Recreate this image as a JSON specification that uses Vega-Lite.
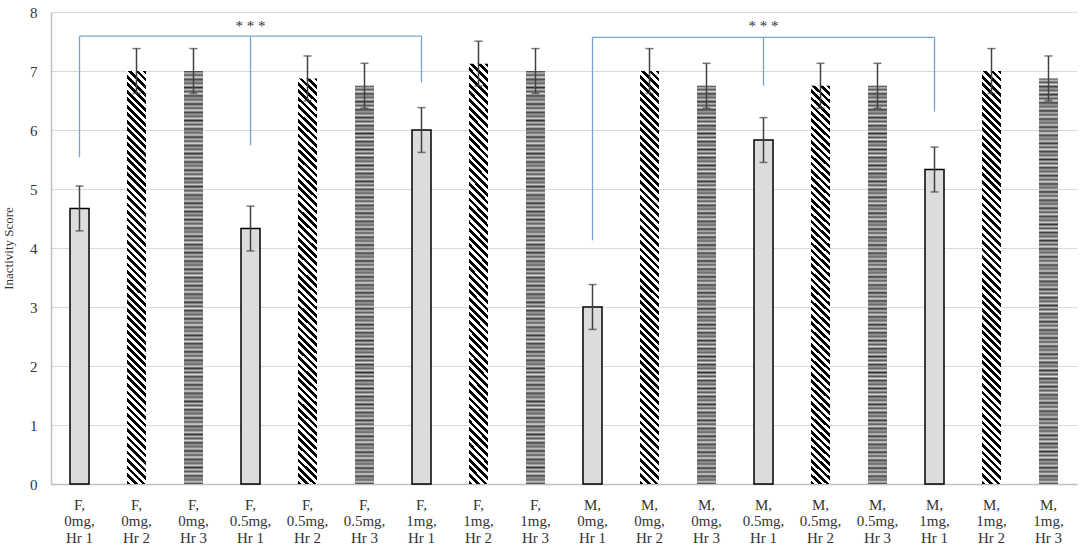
{
  "$schema": "https://vega.github.io/schema/vega-lite/v6.json",
  "width": 1026,
  "height": 472,
  "autosize": "none",
  "padding": {"left": 51, "top": 12, "right": 7, "bottom": 62},
  "background": "white",
  "config": {
    "view": {"stroke": null},
    "font": "Liberation Serif"
  },
  "datasets": {
    "scores": [
      {"group": "F, 0mg, Hr 1", "hour": "Hr 1", "score": 4.67, "sem": 0.38},
      {"group": "F, 0mg, Hr 2", "hour": "Hr 2", "score": 7.0, "sem": 0.38},
      {"group": "F, 0mg, Hr 3", "hour": "Hr 3", "score": 7.0, "sem": 0.38},
      {"group": "F, 0.5mg, Hr 1", "hour": "Hr 1", "score": 4.33, "sem": 0.38},
      {"group": "F, 0.5mg, Hr 2", "hour": "Hr 2", "score": 6.875, "sem": 0.38},
      {"group": "F, 0.5mg, Hr 3", "hour": "Hr 3", "score": 6.75, "sem": 0.38},
      {"group": "F, 1mg, Hr 1", "hour": "Hr 1", "score": 6.0, "sem": 0.38},
      {"group": "F, 1mg, Hr 2", "hour": "Hr 2", "score": 7.125, "sem": 0.38},
      {"group": "F, 1mg, Hr 3", "hour": "Hr 3", "score": 7.0, "sem": 0.38},
      {"group": "M, 0mg, Hr 1", "hour": "Hr 1", "score": 3.0, "sem": 0.38},
      {"group": "M, 0mg, Hr 2", "hour": "Hr 2", "score": 7.0, "sem": 0.38},
      {"group": "M, 0mg, Hr 3", "hour": "Hr 3", "score": 6.75, "sem": 0.38},
      {"group": "M, 0.5mg, Hr 1", "hour": "Hr 1", "score": 5.83, "sem": 0.38},
      {"group": "M, 0.5mg, Hr 2", "hour": "Hr 2", "score": 6.75, "sem": 0.38},
      {"group": "M, 0.5mg, Hr 3", "hour": "Hr 3", "score": 6.75, "sem": 0.38},
      {"group": "M, 1mg, Hr 1", "hour": "Hr 1", "score": 5.33, "sem": 0.38},
      {"group": "M, 1mg, Hr 2", "hour": "Hr 2", "score": 7.0, "sem": 0.38},
      {"group": "M, 1mg, Hr 3", "hour": "Hr 3", "score": 6.875, "sem": 0.38}
    ],
    "brackets": [
      {"from": "F, 0mg, Hr 1", "to": "F, 1mg, Hr 1", "top": 7.59, "bottom": 7.59},
      {"from": "F, 0mg, Hr 1", "to": "F, 0mg, Hr 1", "top": 7.59, "bottom": 5.54},
      {"from": "F, 0.5mg, Hr 1", "to": "F, 0.5mg, Hr 1", "top": 7.59, "bottom": 5.74},
      {"from": "F, 1mg, Hr 1", "to": "F, 1mg, Hr 1", "top": 7.59, "bottom": 6.81},
      {"from": "M, 0mg, Hr 1", "to": "M, 1mg, Hr 1", "top": 7.57, "bottom": 7.57},
      {"from": "M, 0mg, Hr 1", "to": "M, 0mg, Hr 1", "top": 7.57, "bottom": 4.13},
      {"from": "M, 0.5mg, Hr 1", "to": "M, 0.5mg, Hr 1", "top": 7.57, "bottom": 6.75},
      {"from": "M, 1mg, Hr 1", "to": "M, 1mg, Hr 1", "top": 7.57, "bottom": 6.31}
    ],
    "stars": [
      {"at": "F, 0.5mg, Hr 1", "level": 7.77, "label": "* * *"},
      {"at": "M, 0.5mg, Hr 1", "level": 7.77, "label": "* * *"}
    ]
  },
  "layer": [
    {
      "data": {"name": "scores"},
      "transform": [{"filter": {"field": "hour", "equal": "Hr 1"}}],
      "mark": {"type": "bar", "width": 19, "fill": "#dcdcdc", "stroke": "#000000", "strokeWidth": 1.5},
      "encoding": {
        "x": {
          "field": "group", "type": "nominal", "sort": null, "title": null,
          "scale": {
            "domain": ["F, 0mg, Hr 1", "F, 0mg, Hr 2", "F, 0mg, Hr 3", "F, 0.5mg, Hr 1", "F, 0.5mg, Hr 2", "F, 0.5mg, Hr 3", "F, 1mg, Hr 1", "F, 1mg, Hr 2", "F, 1mg, Hr 3", "M, 0mg, Hr 1", "M, 0mg, Hr 2", "M, 0mg, Hr 3", "M, 0.5mg, Hr 1", "M, 0.5mg, Hr 2", "M, 0.5mg, Hr 3", "M, 1mg, Hr 1", "M, 1mg, Hr 2", "M, 1mg, Hr 3"],
            "paddingInner": 0, "paddingOuter": 0
          },
          "axis": {
            "labelAngle": 0, "labelFontSize": 15, "labelColor": "#333333", "labelLineHeight": 16.5,
            "labelPadding": 13, "ticks": false, "domainColor": "#bfbfbf", "domainWidth": 1.5, "grid": false,
            "labelExpr": "[split(datum.value, ', ')[0] + ',', split(datum.value, ', ')[1] + ',', split(datum.value, ', ')[2]]"
          }
        },
        "y": {
          "field": "score", "type": "quantitative", "title": "Inactivity Score",
          "scale": {"domain": [0, 8], "nice": false},
          "axis": {
            "values": [0, 1, 2, 3, 4, 5, 6, 7, 8], "format": "d", "labelFontSize": 15, "labelColor": "#333333",
            "labelPadding": 14, "ticks": false, "gridColor": "#d9d9d9", "domainColor": "#bfbfbf", "domainWidth": 1.5,
            "titleFontSize": 13, "titleFontWeight": "normal", "titleColor": "#333333", "titlePadding": 14
          }
        }
      }
    },
    {
      "data": {"name": "scores"},
      "transform": [{"filter": {"field": "hour", "equal": "Hr 2"}}],
      "mark": {
        "type": "bar", "width": 19,
        "fill": {
          "gradient": "linear", "x1": 0, "y1": 1, "x2": 0.048, "y2": -0.044,
          "stops": [
            {"offset": 0, "color": "#000"}, {"offset": 0.0087, "color": "#000"},
            {"offset": 0.0087, "color": "#fff"}, {"offset": 0.0174, "color": "#fff"},
            {"offset": 0.0174, "color": "#000"}, {"offset": 0.0261, "color": "#000"},
            {"offset": 0.0261, "color": "#fff"}, {"offset": 0.0348, "color": "#fff"},
            {"offset": 0.0348, "color": "#000"}, {"offset": 0.0435, "color": "#000"},
            {"offset": 0.0435, "color": "#fff"}, {"offset": 0.0522, "color": "#fff"},
            {"offset": 0.0522, "color": "#000"}, {"offset": 0.0609, "color": "#000"},
            {"offset": 0.0609, "color": "#fff"}, {"offset": 0.0696, "color": "#fff"},
            {"offset": 0.0696, "color": "#000"}, {"offset": 0.0783, "color": "#000"},
            {"offset": 0.0783, "color": "#fff"}, {"offset": 0.087, "color": "#fff"},
            {"offset": 0.087, "color": "#000"}, {"offset": 0.0957, "color": "#000"},
            {"offset": 0.0957, "color": "#fff"}, {"offset": 0.1044, "color": "#fff"},
            {"offset": 0.1044, "color": "#000"}, {"offset": 0.1131, "color": "#000"},
            {"offset": 0.1131, "color": "#fff"}, {"offset": 0.1218, "color": "#fff"},
            {"offset": 0.1218, "color": "#000"}, {"offset": 0.1305, "color": "#000"},
            {"offset": 0.1305, "color": "#fff"}, {"offset": 0.1392, "color": "#fff"},
            {"offset": 0.1392, "color": "#000"}, {"offset": 0.1479, "color": "#000"},
            {"offset": 0.1479, "color": "#fff"}, {"offset": 0.1566, "color": "#fff"},
            {"offset": 0.1566, "color": "#000"}, {"offset": 0.1653, "color": "#000"},
            {"offset": 0.1653, "color": "#fff"}, {"offset": 0.174, "color": "#fff"},
            {"offset": 0.174, "color": "#000"}, {"offset": 0.1827, "color": "#000"},
            {"offset": 0.1827, "color": "#fff"}, {"offset": 0.1914, "color": "#fff"},
            {"offset": 0.1914, "color": "#000"}, {"offset": 0.2001, "color": "#000"},
            {"offset": 0.2001, "color": "#fff"}, {"offset": 0.2088, "color": "#fff"},
            {"offset": 0.2088, "color": "#000"}, {"offset": 0.2175, "color": "#000"},
            {"offset": 0.2175, "color": "#fff"}, {"offset": 0.2262, "color": "#fff"},
            {"offset": 0.2262, "color": "#000"}, {"offset": 0.2349, "color": "#000"},
            {"offset": 0.2349, "color": "#fff"}, {"offset": 0.2436, "color": "#fff"},
            {"offset": 0.2436, "color": "#000"}, {"offset": 0.2523, "color": "#000"},
            {"offset": 0.2523, "color": "#fff"}, {"offset": 0.261, "color": "#fff"},
            {"offset": 0.261, "color": "#000"}, {"offset": 0.2697, "color": "#000"},
            {"offset": 0.2697, "color": "#fff"}, {"offset": 0.2784, "color": "#fff"},
            {"offset": 0.2784, "color": "#000"}, {"offset": 0.2871, "color": "#000"},
            {"offset": 0.2871, "color": "#fff"}, {"offset": 0.2958, "color": "#fff"},
            {"offset": 0.2958, "color": "#000"}, {"offset": 0.3045, "color": "#000"},
            {"offset": 0.3045, "color": "#fff"}, {"offset": 0.3132, "color": "#fff"},
            {"offset": 0.3132, "color": "#000"}, {"offset": 0.3219, "color": "#000"},
            {"offset": 0.3219, "color": "#fff"}, {"offset": 0.3306, "color": "#fff"},
            {"offset": 0.3306, "color": "#000"}, {"offset": 0.3393, "color": "#000"},
            {"offset": 0.3393, "color": "#fff"}, {"offset": 0.348, "color": "#fff"},
            {"offset": 0.348, "color": "#000"}, {"offset": 0.3567, "color": "#000"},
            {"offset": 0.3567, "color": "#fff"}, {"offset": 0.3654, "color": "#fff"},
            {"offset": 0.3654, "color": "#000"}, {"offset": 0.3741, "color": "#000"},
            {"offset": 0.3741, "color": "#fff"}, {"offset": 0.3828, "color": "#fff"},
            {"offset": 0.3828, "color": "#000"}, {"offset": 0.3915, "color": "#000"},
            {"offset": 0.3915, "color": "#fff"}, {"offset": 0.4002, "color": "#fff"},
            {"offset": 0.4002, "color": "#000"}, {"offset": 0.4089, "color": "#000"},
            {"offset": 0.4089, "color": "#fff"}, {"offset": 0.4176, "color": "#fff"},
            {"offset": 0.4176, "color": "#000"}, {"offset": 0.4263, "color": "#000"},
            {"offset": 0.4263, "color": "#fff"}, {"offset": 0.435, "color": "#fff"},
            {"offset": 0.435, "color": "#000"}, {"offset": 0.4437, "color": "#000"},
            {"offset": 0.4437, "color": "#fff"}, {"offset": 0.4524, "color": "#fff"},
            {"offset": 0.4524, "color": "#000"}, {"offset": 0.4611, "color": "#000"},
            {"offset": 0.4611, "color": "#fff"}, {"offset": 0.4698, "color": "#fff"},
            {"offset": 0.4698, "color": "#000"}, {"offset": 0.4785, "color": "#000"},
            {"offset": 0.4785, "color": "#fff"}, {"offset": 0.4872, "color": "#fff"},
            {"offset": 0.4872, "color": "#000"}, {"offset": 0.4959, "color": "#000"},
            {"offset": 0.4959, "color": "#fff"}, {"offset": 0.5046, "color": "#fff"},
            {"offset": 0.5046, "color": "#000"}, {"offset": 0.5133, "color": "#000"},
            {"offset": 0.5133, "color": "#fff"}, {"offset": 0.522, "color": "#fff"},
            {"offset": 0.522, "color": "#000"}, {"offset": 0.5307, "color": "#000"},
            {"offset": 0.5307, "color": "#fff"}, {"offset": 0.5394, "color": "#fff"},
            {"offset": 0.5394, "color": "#000"}, {"offset": 0.5481, "color": "#000"},
            {"offset": 0.5481, "color": "#fff"}, {"offset": 0.5568, "color": "#fff"},
            {"offset": 0.5568, "color": "#000"}, {"offset": 0.5655, "color": "#000"},
            {"offset": 0.5655, "color": "#fff"}, {"offset": 0.5742, "color": "#fff"},
            {"offset": 0.5742, "color": "#000"}, {"offset": 0.5829, "color": "#000"},
            {"offset": 0.5829, "color": "#fff"}, {"offset": 0.5916, "color": "#fff"},
            {"offset": 0.5916, "color": "#000"}, {"offset": 0.6003, "color": "#000"},
            {"offset": 0.6003, "color": "#fff"}, {"offset": 0.609, "color": "#fff"},
            {"offset": 0.609, "color": "#000"}, {"offset": 0.6177, "color": "#000"},
            {"offset": 0.6177, "color": "#fff"}, {"offset": 0.6264, "color": "#fff"},
            {"offset": 0.6264, "color": "#000"}, {"offset": 0.6351, "color": "#000"},
            {"offset": 0.6351, "color": "#fff"}, {"offset": 0.6438, "color": "#fff"},
            {"offset": 0.6438, "color": "#000"}, {"offset": 0.6525, "color": "#000"},
            {"offset": 0.6525, "color": "#fff"}, {"offset": 0.6612, "color": "#fff"},
            {"offset": 0.6612, "color": "#000"}, {"offset": 0.6699, "color": "#000"},
            {"offset": 0.6699, "color": "#fff"}, {"offset": 0.6786, "color": "#fff"},
            {"offset": 0.6786, "color": "#000"}, {"offset": 0.6873, "color": "#000"},
            {"offset": 0.6873, "color": "#fff"}, {"offset": 0.696, "color": "#fff"},
            {"offset": 0.696, "color": "#000"}, {"offset": 0.7047, "color": "#000"},
            {"offset": 0.7047, "color": "#fff"}, {"offset": 0.7134, "color": "#fff"},
            {"offset": 0.7134, "color": "#000"}, {"offset": 0.7221, "color": "#000"},
            {"offset": 0.7221, "color": "#fff"}, {"offset": 0.7308, "color": "#fff"},
            {"offset": 0.7308, "color": "#000"}, {"offset": 0.7395, "color": "#000"},
            {"offset": 0.7395, "color": "#fff"}, {"offset": 0.7482, "color": "#fff"},
            {"offset": 0.7482, "color": "#000"}, {"offset": 0.7569, "color": "#000"},
            {"offset": 0.7569, "color": "#fff"}, {"offset": 0.7656, "color": "#fff"},
            {"offset": 0.7656, "color": "#000"}, {"offset": 0.7743, "color": "#000"},
            {"offset": 0.7743, "color": "#fff"}, {"offset": 0.783, "color": "#fff"},
            {"offset": 0.783, "color": "#000"}, {"offset": 0.7917, "color": "#000"},
            {"offset": 0.7917, "color": "#fff"}, {"offset": 0.8004, "color": "#fff"},
            {"offset": 0.8004, "color": "#000"}, {"offset": 0.8091, "color": "#000"},
            {"offset": 0.8091, "color": "#fff"}, {"offset": 0.8178, "color": "#fff"},
            {"offset": 0.8178, "color": "#000"}, {"offset": 0.8265, "color": "#000"},
            {"offset": 0.8265, "color": "#fff"}, {"offset": 0.8352, "color": "#fff"},
            {"offset": 0.8352, "color": "#000"}, {"offset": 0.8439, "color": "#000"},
            {"offset": 0.8439, "color": "#fff"}, {"offset": 0.8526, "color": "#fff"},
            {"offset": 0.8526, "color": "#000"}, {"offset": 0.8613, "color": "#000"},
            {"offset": 0.8613, "color": "#fff"}, {"offset": 0.87, "color": "#fff"},
            {"offset": 0.87, "color": "#000"}, {"offset": 0.8787, "color": "#000"},
            {"offset": 0.8787, "color": "#fff"}, {"offset": 0.8874, "color": "#fff"},
            {"offset": 0.8874, "color": "#000"}, {"offset": 0.8961, "color": "#000"},
            {"offset": 0.8961, "color": "#fff"}, {"offset": 0.9048, "color": "#fff"},
            {"offset": 0.9048, "color": "#000"}, {"offset": 0.9135, "color": "#000"},
            {"offset": 0.9135, "color": "#fff"}, {"offset": 0.9222, "color": "#fff"},
            {"offset": 0.9222, "color": "#000"}, {"offset": 0.9309, "color": "#000"},
            {"offset": 0.9309, "color": "#fff"}, {"offset": 0.9396, "color": "#fff"},
            {"offset": 0.9396, "color": "#000"}, {"offset": 0.9483, "color": "#000"},
            {"offset": 0.9483, "color": "#fff"}, {"offset": 0.957, "color": "#fff"},
            {"offset": 0.957, "color": "#000"}, {"offset": 0.9657, "color": "#000"},
            {"offset": 0.9657, "color": "#fff"}, {"offset": 0.9744, "color": "#fff"},
            {"offset": 0.9744, "color": "#000"}, {"offset": 0.9831, "color": "#000"},
            {"offset": 0.9831, "color": "#fff"}, {"offset": 0.9918, "color": "#fff"},
            {"offset": 0.9918, "color": "#000"}, {"offset": 1, "color": "#000"}
          ]
        }
      },
      "encoding": {
        "x": {"field": "group", "type": "nominal", "title": null},
        "y": {"field": "score", "type": "quantitative", "title": "Inactivity Score"}
      }
    },
    {
      "data": {"name": "scores"},
      "transform": [{"filter": {"field": "hour", "equal": "Hr 3"}}],
      "mark": {
        "type": "bar", "width": 19,
        "fill": {
          "gradient": "linear", "x1": 0, "y1": 0, "x2": 0, "y2": 1,
          "stops": [
            {"offset": 0, "color": "#333"}, {"offset": 0.005, "color": "#bbb"}, {"offset": 0.01, "color": "#555"}, {"offset": 0.015, "color": "#ddd"},
            {"offset": 0.02, "color": "#444"}, {"offset": 0.025, "color": "#999"}, {"offset": 0.03, "color": "#666"}, {"offset": 0.035, "color": "#ccc"},
            {"offset": 0.04, "color": "#333"}, {"offset": 0.045, "color": "#bbb"}, {"offset": 0.05, "color": "#555"}, {"offset": 0.055, "color": "#ddd"},
            {"offset": 0.06, "color": "#444"}, {"offset": 0.065, "color": "#999"}, {"offset": 0.07, "color": "#666"}, {"offset": 0.075, "color": "#ccc"},
            {"offset": 0.08, "color": "#333"}, {"offset": 0.085, "color": "#bbb"}, {"offset": 0.09, "color": "#555"}, {"offset": 0.095, "color": "#ddd"},
            {"offset": 0.1, "color": "#444"}, {"offset": 0.105, "color": "#999"}, {"offset": 0.11, "color": "#666"}, {"offset": 0.115, "color": "#ccc"},
            {"offset": 0.12, "color": "#333"}, {"offset": 0.125, "color": "#bbb"}, {"offset": 0.13, "color": "#555"}, {"offset": 0.135, "color": "#ddd"},
            {"offset": 0.14, "color": "#444"}, {"offset": 0.145, "color": "#999"}, {"offset": 0.15, "color": "#666"}, {"offset": 0.155, "color": "#ccc"},
            {"offset": 0.16, "color": "#333"}, {"offset": 0.165, "color": "#bbb"}, {"offset": 0.17, "color": "#555"}, {"offset": 0.175, "color": "#ddd"},
            {"offset": 0.18, "color": "#444"}, {"offset": 0.185, "color": "#999"}, {"offset": 0.19, "color": "#666"}, {"offset": 0.195, "color": "#ccc"},
            {"offset": 0.2, "color": "#333"}, {"offset": 0.205, "color": "#bbb"}, {"offset": 0.21, "color": "#555"}, {"offset": 0.215, "color": "#ddd"},
            {"offset": 0.22, "color": "#444"}, {"offset": 0.225, "color": "#999"}, {"offset": 0.23, "color": "#666"}, {"offset": 0.235, "color": "#ccc"},
            {"offset": 0.24, "color": "#333"}, {"offset": 0.245, "color": "#bbb"}, {"offset": 0.25, "color": "#555"}, {"offset": 0.255, "color": "#ddd"},
            {"offset": 0.26, "color": "#444"}, {"offset": 0.265, "color": "#999"}, {"offset": 0.27, "color": "#666"}, {"offset": 0.275, "color": "#ccc"},
            {"offset": 0.28, "color": "#333"}, {"offset": 0.285, "color": "#bbb"}, {"offset": 0.29, "color": "#555"}, {"offset": 0.295, "color": "#ddd"},
            {"offset": 0.3, "color": "#444"}, {"offset": 0.305, "color": "#999"}, {"offset": 0.31, "color": "#666"}, {"offset": 0.315, "color": "#ccc"},
            {"offset": 0.32, "color": "#333"}, {"offset": 0.325, "color": "#bbb"}, {"offset": 0.33, "color": "#555"}, {"offset": 0.335, "color": "#ddd"},
            {"offset": 0.34, "color": "#444"}, {"offset": 0.345, "color": "#999"}, {"offset": 0.35, "color": "#666"}, {"offset": 0.355, "color": "#ccc"},
            {"offset": 0.36, "color": "#333"}, {"offset": 0.365, "color": "#bbb"}, {"offset": 0.37, "color": "#555"}, {"offset": 0.375, "color": "#ddd"},
            {"offset": 0.38, "color": "#444"}, {"offset": 0.385, "color": "#999"}, {"offset": 0.39, "color": "#666"}, {"offset": 0.395, "color": "#ccc"},
            {"offset": 0.4, "color": "#333"}, {"offset": 0.405, "color": "#bbb"}, {"offset": 0.41, "color": "#555"}, {"offset": 0.415, "color": "#ddd"},
            {"offset": 0.42, "color": "#444"}, {"offset": 0.425, "color": "#999"}, {"offset": 0.43, "color": "#666"}, {"offset": 0.435, "color": "#ccc"},
            {"offset": 0.44, "color": "#333"}, {"offset": 0.445, "color": "#bbb"}, {"offset": 0.45, "color": "#555"}, {"offset": 0.455, "color": "#ddd"},
            {"offset": 0.46, "color": "#444"}, {"offset": 0.465, "color": "#999"}, {"offset": 0.47, "color": "#666"}, {"offset": 0.475, "color": "#ccc"},
            {"offset": 0.48, "color": "#333"}, {"offset": 0.485, "color": "#bbb"}, {"offset": 0.49, "color": "#555"}, {"offset": 0.495, "color": "#ddd"},
            {"offset": 0.5, "color": "#444"}, {"offset": 0.505, "color": "#999"}, {"offset": 0.51, "color": "#666"}, {"offset": 0.515, "color": "#ccc"},
            {"offset": 0.52, "color": "#333"}, {"offset": 0.525, "color": "#bbb"}, {"offset": 0.53, "color": "#555"}, {"offset": 0.535, "color": "#ddd"},
            {"offset": 0.54, "color": "#444"}, {"offset": 0.545, "color": "#999"}, {"offset": 0.55, "color": "#666"}, {"offset": 0.555, "color": "#ccc"},
            {"offset": 0.56, "color": "#333"}, {"offset": 0.565, "color": "#bbb"}, {"offset": 0.57, "color": "#555"}, {"offset": 0.575, "color": "#ddd"},
            {"offset": 0.58, "color": "#444"}, {"offset": 0.585, "color": "#999"}, {"offset": 0.59, "color": "#666"}, {"offset": 0.595, "color": "#ccc"},
            {"offset": 0.6, "color": "#333"}, {"offset": 0.605, "color": "#bbb"}, {"offset": 0.61, "color": "#555"}, {"offset": 0.615, "color": "#ddd"},
            {"offset": 0.62, "color": "#444"}, {"offset": 0.625, "color": "#999"}, {"offset": 0.63, "color": "#666"}, {"offset": 0.635, "color": "#ccc"},
            {"offset": 0.64, "color": "#333"}, {"offset": 0.645, "color": "#bbb"}, {"offset": 0.65, "color": "#555"}, {"offset": 0.655, "color": "#ddd"},
            {"offset": 0.66, "color": "#444"}, {"offset": 0.665, "color": "#999"}, {"offset": 0.67, "color": "#666"}, {"offset": 0.675, "color": "#ccc"},
            {"offset": 0.68, "color": "#333"}, {"offset": 0.685, "color": "#bbb"}, {"offset": 0.69, "color": "#555"}, {"offset": 0.695, "color": "#ddd"},
            {"offset": 0.7, "color": "#444"}, {"offset": 0.705, "color": "#999"}, {"offset": 0.71, "color": "#666"}, {"offset": 0.715, "color": "#ccc"},
            {"offset": 0.72, "color": "#333"}, {"offset": 0.725, "color": "#bbb"}, {"offset": 0.73, "color": "#555"}, {"offset": 0.735, "color": "#ddd"},
            {"offset": 0.74, "color": "#444"}, {"offset": 0.745, "color": "#999"}, {"offset": 0.75, "color": "#666"}, {"offset": 0.755, "color": "#ccc"},
            {"offset": 0.76, "color": "#333"}, {"offset": 0.765, "color": "#bbb"}, {"offset": 0.77, "color": "#555"}, {"offset": 0.775, "color": "#ddd"},
            {"offset": 0.78, "color": "#444"}, {"offset": 0.785, "color": "#999"}, {"offset": 0.79, "color": "#666"}, {"offset": 0.795, "color": "#ccc"},
            {"offset": 0.8, "color": "#333"}, {"offset": 0.805, "color": "#bbb"}, {"offset": 0.81, "color": "#555"}, {"offset": 0.815, "color": "#ddd"},
            {"offset": 0.82, "color": "#444"}, {"offset": 0.825, "color": "#999"}, {"offset": 0.83, "color": "#666"}, {"offset": 0.835, "color": "#ccc"},
            {"offset": 0.84, "color": "#333"}, {"offset": 0.845, "color": "#bbb"}, {"offset": 0.85, "color": "#555"}, {"offset": 0.855, "color": "#ddd"},
            {"offset": 0.86, "color": "#444"}, {"offset": 0.865, "color": "#999"}, {"offset": 0.87, "color": "#666"}, {"offset": 0.875, "color": "#ccc"},
            {"offset": 0.88, "color": "#333"}, {"offset": 0.885, "color": "#bbb"}, {"offset": 0.89, "color": "#555"}, {"offset": 0.895, "color": "#ddd"},
            {"offset": 0.9, "color": "#444"}, {"offset": 0.905, "color": "#999"}, {"offset": 0.91, "color": "#666"}, {"offset": 0.915, "color": "#ccc"},
            {"offset": 0.92, "color": "#333"}, {"offset": 0.925, "color": "#bbb"}, {"offset": 0.93, "color": "#555"}, {"offset": 0.935, "color": "#ddd"},
            {"offset": 0.94, "color": "#444"}, {"offset": 0.945, "color": "#999"}, {"offset": 0.95, "color": "#666"}, {"offset": 0.955, "color": "#ccc"},
            {"offset": 0.96, "color": "#333"}, {"offset": 0.965, "color": "#bbb"}, {"offset": 0.97, "color": "#555"}, {"offset": 0.975, "color": "#ddd"},
            {"offset": 0.98, "color": "#444"}, {"offset": 0.985, "color": "#999"}, {"offset": 0.99, "color": "#666"}, {"offset": 0.995, "color": "#ccc"},
            {"offset": 1, "color": "#333"}
          ]
        }
      },
      "encoding": {
        "x": {"field": "group", "type": "nominal", "title": null},
        "y": {"field": "score", "type": "quantitative", "title": "Inactivity Score"}
      }
    },
    {
      "data": {"name": "scores"},
      "mark": {"type": "errorbar", "ticks": {"size": 8, "thickness": 1.5}, "color": "#404040", "thickness": 1.5},
      "encoding": {
        "x": {"field": "group", "type": "nominal", "title": null},
        "y": {"field": "score", "type": "quantitative", "title": "Inactivity Score"},
        "yError": {"field": "sem"}
      }
    },
    {
      "data": {"name": "brackets"},
      "mark": {"type": "rule", "color": "#7aa3d3", "strokeWidth": 1.3},
      "encoding": {
        "x": {"field": "from", "type": "nominal", "title": null},
        "x2": {"field": "to"},
        "y": {"field": "top", "type": "quantitative", "title": "Inactivity Score"},
        "y2": {"field": "bottom"}
      }
    },
    {
      "data": {"name": "stars"},
      "mark": {"type": "text", "fontSize": 15, "color": "#333333", "baseline": "middle", "align": "center"},
      "encoding": {
        "x": {"field": "at", "type": "nominal", "title": null},
        "y": {"field": "level", "type": "quantitative", "title": "Inactivity Score"},
        "text": {"field": "label"}
      }
    }
  ]
}
